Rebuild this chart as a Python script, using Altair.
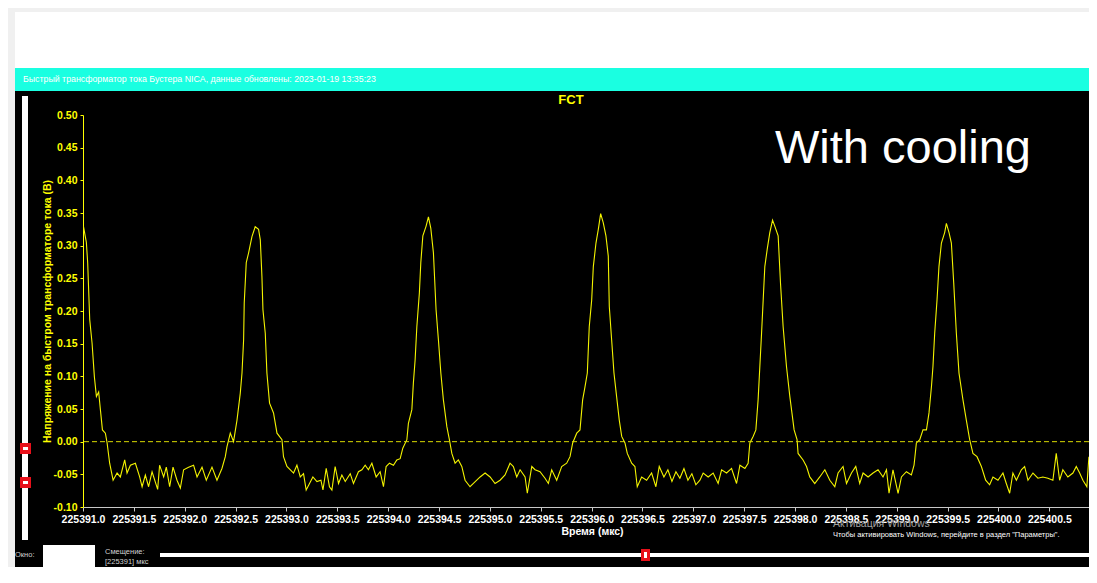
import altair as alt
import pandas as pd

# ---------------- data ----------------
T0 = 225391.0  # start time, microseconds

TIME_OFFSET_US = [
    0.004, 0.033, 0.046, 0.066, 0.089, 0.112, 0.132, 0.154, 0.171, 0.191,
    0.220, 0.237, 0.262, 0.296, 0.335, 0.367, 0.410, 0.433, 0.466, 0.515,
    0.557, 0.581, 0.613, 0.645, 0.679, 0.734, 0.753, 0.793, 0.819, 0.852,
    0.885, 0.924, 0.957, 0.989, 1.038, 1.087, 1.121, 1.170, 1.212, 1.268,
    1.317, 1.366, 1.399, 1.415, 1.448, 1.480, 1.514, 1.546, 1.563, 1.579,
    1.585, 1.605, 1.628, 1.661, 1.693, 1.726, 1.743, 1.759, 1.769, 1.792,
    1.808, 1.834, 1.873, 1.907, 1.956, 1.971, 2.005, 2.070, 2.103, 2.136,
    2.168, 2.194, 2.227, 2.260, 2.300, 2.339, 2.359, 2.391, 2.423, 2.447,
    2.479, 2.512, 2.545, 2.578, 2.627, 2.659, 2.708, 2.742, 2.774, 2.806,
    2.840, 2.882, 2.921, 2.954, 2.980, 3.013, 3.052, 3.085, 3.118, 3.144,
    3.184, 3.199, 3.233, 3.248, 3.265, 3.282, 3.307, 3.321, 3.341, 3.373,
    3.396, 3.419, 3.445, 3.471, 3.494, 3.518, 3.543, 3.577, 3.602, 3.626,
    3.658, 3.690, 3.724, 3.756, 3.805, 3.838, 3.904, 3.953, 4.002, 4.051,
    4.100, 4.149, 4.198, 4.231, 4.264, 4.297, 4.346, 4.368, 4.412, 4.444,
    4.493, 4.542, 4.575, 4.608, 4.657, 4.706, 4.755, 4.788, 4.814, 4.854,
    4.886, 4.912, 4.935, 4.958, 4.977, 5.001, 5.017, 5.043, 5.066, 5.089,
    5.115, 5.141, 5.164, 5.174, 5.197, 5.220, 5.246, 5.272, 5.296, 5.328,
    5.351, 5.394, 5.426, 5.449, 5.492, 5.541, 5.590, 5.632, 5.665, 5.711,
    5.750, 5.790, 5.829, 5.868, 5.908, 5.947, 5.986, 6.025, 6.065, 6.097,
    6.146, 6.195, 6.244, 6.278, 6.327, 6.376, 6.425, 6.458, 6.507, 6.539,
    6.556, 6.588, 6.615, 6.637, 6.654, 6.671, 6.687, 6.703, 6.726, 6.752,
    6.779, 6.801, 6.834, 6.857, 6.883, 6.916, 6.949, 6.991, 7.020, 7.030,
    7.079, 7.113, 7.145, 7.194, 7.243, 7.293, 7.342, 7.391, 7.423, 7.472,
    7.506, 7.555, 7.597, 7.636, 7.669, 7.718, 7.767, 7.816, 7.865, 7.899,
    7.924, 7.963, 8.013, 8.046, 8.095, 8.144, 8.170, 8.193, 8.226, 8.258,
    8.292, 8.317, 8.341, 8.356, 8.373, 8.396, 8.415, 8.439, 8.471, 8.488,
    8.514, 8.537, 8.560, 8.586, 8.612, 8.651, 8.684, 8.717, 8.749, 8.789,
    8.832, 8.874, 8.913, 8.946, 8.995, 9.044, 9.077, 9.110, 9.142, 9.176,
    9.225, 9.257, 9.290, 9.339, 9.388, 9.437, 9.486, 9.535, 9.568, 9.601,
    9.633, 9.682, 9.732, 9.765, 9.798, 9.830, 9.869, 9.889,
]

VOLTAGE_V = [
    0.330, 0.305, 0.274, 0.187, 0.151, 0.099, 0.069, 0.076, 0.049, 0.018,
    0.013, -0.002, -0.033, -0.059, -0.048, -0.054, -0.028, -0.048, -0.036, -0.033,
    -0.054, -0.069, -0.051, -0.069, -0.046, -0.073, -0.036, -0.054, -0.039, -0.069,
    -0.039, -0.059, -0.071, -0.043, -0.039, -0.036, -0.054, -0.039, -0.059, -0.039,
    -0.059, -0.041, -0.023, -0.008, 0.013, 0.000, 0.033, 0.074, 0.105, 0.156,
    0.212, 0.274, 0.289, 0.314, 0.329, 0.325, 0.309, 0.253, 0.202, 0.166,
    0.105, 0.059, 0.044, 0.013, 0.003, -0.023, -0.038, -0.048, -0.036, -0.054,
    -0.049, -0.074, -0.064, -0.054, -0.061, -0.059, -0.074, -0.041, -0.069, -0.074,
    -0.038, -0.064, -0.051, -0.061, -0.049, -0.064, -0.046, -0.043, -0.036, -0.043,
    -0.033, -0.054, -0.046, -0.069, -0.038, -0.033, -0.036, -0.028, -0.026, -0.010,
    0.003, 0.028, 0.049, 0.090, 0.125, 0.176, 0.228, 0.274, 0.315, 0.330,
    0.344, 0.327, 0.289, 0.202, 0.156, 0.105, 0.064, 0.023, 0.003, -0.018,
    -0.033, -0.028, -0.038, -0.059, -0.069, -0.064, -0.054, -0.048, -0.054, -0.064,
    -0.059, -0.051, -0.033, -0.038, -0.054, -0.043, -0.054, -0.079, -0.038, -0.043,
    -0.046, -0.056, -0.064, -0.043, -0.059, -0.038, -0.033, -0.023, -0.002, 0.013,
    0.018, 0.064, 0.084, 0.105, 0.176, 0.217, 0.268, 0.304, 0.325, 0.349,
    0.335, 0.315, 0.284, 0.207, 0.156, 0.105, 0.069, 0.033, 0.008, -0.002,
    -0.018, -0.033, -0.038, -0.069, -0.054, -0.059, -0.048, -0.069, -0.038, -0.054,
    -0.043, -0.061, -0.046, -0.056, -0.041, -0.059, -0.049, -0.066, -0.059, -0.048,
    -0.054, -0.048, -0.064, -0.043, -0.048, -0.041, -0.064, -0.036, -0.041, -0.033,
    -0.002, 0.008, 0.018, 0.064, 0.115, 0.166, 0.217, 0.268, 0.294, 0.320,
    0.339, 0.330, 0.315, 0.243, 0.176, 0.115, 0.069, 0.018, 0.003, -0.018,
    -0.028, -0.038, -0.054, -0.064, -0.054, -0.043, -0.059, -0.069, -0.048, -0.038,
    -0.064, -0.048, -0.038, -0.064, -0.048, -0.054, -0.048, -0.043, -0.054, -0.043,
    -0.079, -0.043, -0.079, -0.054, -0.046, -0.051, -0.036, -0.002, 0.003, 0.018,
    0.018, 0.044, 0.084, 0.115, 0.166, 0.217, 0.268, 0.304, 0.320, 0.334,
    0.320, 0.304, 0.243, 0.166, 0.105, 0.064, 0.033, 0.003, -0.018, -0.023,
    -0.038, -0.059, -0.066, -0.054, -0.059, -0.048, -0.064, -0.079, -0.048, -0.059,
    -0.043, -0.038, -0.059, -0.048, -0.056, -0.054, -0.056, -0.059, -0.018, -0.059,
    -0.043, -0.054, -0.048, -0.038, -0.048, -0.059, -0.069, -0.023,
]

ZERO_LEVEL = [0.0]

X_DOMAIN = [225391.0, 225400.89]
Y_DOMAIN = [-0.10, 0.50]
X_TICKS = [225391.0, 225391.5, 225392.0, 225392.5, 225393.0, 225393.5, 225394.0,
           225394.5, 225395.0, 225395.5, 225396.0, 225396.5, 225397.0, 225397.5,
           225398.0, 225398.5, 225399.0, 225399.5, 225400.0, 225400.5]
Y_TICKS = [-0.10, -0.05, 0.00, 0.05, 0.10, 0.15, 0.20, 0.25, 0.30, 0.35, 0.40, 0.45, 0.50]

HEADER = "Быстрый трансформатор тока Бустера NICA, данные обновлены: 2023-01-19 13:35:23"
TITLE = "FCT"
NOTE = "With cooling"
X_TITLE = "Время (мкс)"
Y_TITLE = "Напряжение на быстром трансформаторе тока (В)"
WIN_1 = "Активация Windows"
WIN_2 = "Чтобы активировать Windows, перейдите в раздел \"Параметры\"."
LBL_WINDOW = "Окно:"
LBL_SHIFT = "Смещение:"
LBL_SHIFT_VAL = "[225391] мкс"

# ---------------- chart ----------------
df = pd.DataFrame({"t": [T0 + o for o in TIME_OFFSET_US], "v": VOLTAGE_V})
zero_df = pd.DataFrame({"v": ZERO_LEVEL})
ONE = pd.DataFrame({"k": [0]})

FONT = "Liberation Sans"
YEL = "#ffff00"

X_SCALE = alt.Scale(domain=X_DOMAIN, nice=False, zero=False)
Y_SCALE = alt.Scale(domain=Y_DOMAIN, nice=False, zero=False)

X_AXIS = alt.Axis(values=X_TICKS, format=".1f", grid=False,
                  domainColor="#c8c8c8", tickColor="#c8c8c8", tickSize=4,
                  labelColor="#ffffff", labelFont=FONT, labelFontSize=10.5,
                  labelFontWeight="bold", labelPadding=3, labelOverlap=False,
                  labelFlush=False,
                  title=X_TITLE, titleColor="#ffffff", titleFont=FONT,
                  titleFontSize=10.5, titleFontWeight="bold",
                  titleX=509, titlePadding=2)

Y_AXIS = alt.Axis(values=Y_TICKS, grid=False, tickCount=13,
                  labelExpr="replace(format(datum.value, '.2f'), '\u2212', '-')",
                  domainColor=YEL, tickColor=YEL, tickSize=3,
                  labelColor=YEL, labelFont=FONT, labelFontSize=10.5,
                  labelFontWeight="bold", labelPadding=3, labelOverlap=False,
                  labelFlush=False,
                  title=Y_TITLE, titleColor=YEL, titleFont=FONT,
                  titleFontSize=10.5, titleFontWeight="bold",
                  titleX=-36, titleBaseline="middle")


def deco_rect(x, x2, y, y2, color):
    return alt.Chart(ONE).mark_rect(color=color).encode(
        x=alt.value(x), x2=alt.value(x2), y=alt.value(y), y2=alt.value(y2))


def deco_text(txt, x, y, size, color, weight="normal", align="left", baseline="middle"):
    return alt.Chart(ONE).mark_text(
        text=txt, font=FONT, fontSize=size, color=color, fontWeight=weight,
        align=align, baseline=baseline).encode(x=alt.value(x), y=alt.value(y))


decor = [
    deco_rect(-75, -68, -107, 452, "#f0f0f0"),
    deco_rect(-75, 1006, -107, -103, "#f0f0f0"),
    deco_rect(-68, 1006, -103, -47, "#ffffff"),
    deco_rect(-68, 1006, -47, -24, "#1affe1"),
    # vertical slider
    deco_rect(-61, -55, -19, 425, "#ffffff"),
    deco_rect(-63, -52, 328, 339, "#e8101a"),
    deco_rect(-60, -55, 332, 335, "#ffffff"),
    deco_rect(-63, -52, 362, 373, "#e8101a"),
    deco_rect(-60, -55, 366, 369, "#ffffff"),
    # bottom controls
    deco_rect(-40, 12, 430, 452, "#ffffff"),
    deco_rect(77, 1006, 438, 442, "#ffffff"),
    deco_rect(558, 567, 434, 446, "#e8101a"),
    deco_rect(561, 564, 437, 443, "#ffffff"),
]

texts = [
    deco_text(HEADER, -60, -36, 8.8, "#ffffff"),
    deco_text(TITLE, 488, -15, 13, YEL, weight="bold", align="center"),
    deco_text(NOTE, 692, 48, 47, "#ffffff", baseline="alphabetic"),
    deco_text(WIN_1, 750, 409, 10.5, "#a0a0a0"),
    deco_text(WIN_2, 750, 420, 7.5, "#ffffff"),
    deco_text(LBL_WINDOW, -68, 440, 7.5, "#d0d0d0"),
    deco_text(LBL_SHIFT, 22, 437, 7.5, "#d0d0d0"),
    deco_text(LBL_SHIFT_VAL, 22, 447, 7.5, "#d0d0d0"),
]

line = alt.Chart(df).mark_line(color="#f4f400", strokeWidth=1.1, clip=True).encode(
    x=alt.X("t:Q", scale=X_SCALE, axis=X_AXIS),
    y=alt.Y("v:Q", scale=Y_SCALE, axis=Y_AXIS),
)

zero_rule = alt.Chart(zero_df).mark_rule(
    color="#d8d800", strokeWidth=1, strokeDash=[5, 3]).encode(
    y=alt.Y("v:Q", scale=Y_SCALE, axis=Y_AXIS))

chart = alt.layer(*decor, line, zero_rule, *texts).properties(
    width=1006, height=392,
    autosize=alt.AutoSizeParams(type="none"),
    padding={"left": 75, "top": 107, "right": 0, "bottom": 60},
).configure(background="#000000").configure_view(stroke=None, fill="#000000")

chart.save("out.html", embed_options={"renderer": "svg", "actions": False})
